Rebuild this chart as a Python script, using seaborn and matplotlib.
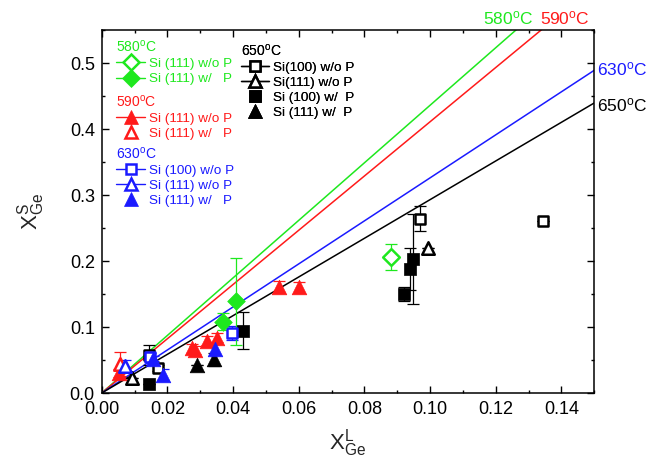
import numpy as np
import pandas as pd
import matplotlib
matplotlib.use("Agg")
import matplotlib.pyplot as plt
from matplotlib.lines import Line2D
from matplotlib.ticker import MultipleLocator, FormatStrFormatter
import seaborn as sns

sns.set_theme(style="ticks")
plt.rcParams['font.family'] = ['Liberation Sans', 'DejaVu Sans']
plt.rcParams['mathtext.fontset'] = 'custom'
plt.rcParams['mathtext.rm'] = 'Liberation Sans'
plt.rcParams['mathtext.it'] = 'Liberation Sans:italic'

GREEN = '#1ee81e'
RED = '#ff1a1a'
BLUE = '#1a1aff'
BLACK = '#000000'

# ---- data ----
temps = ['580', '590', '630', '650']
slopes = [4.36, 4.11, 3.26, 2.93]
line_colors = [GREEN, RED, BLUE, BLACK]
x_line = [0.0, 0.15]

# 580 C
g_wo_x = [0.0880]; g_wo_y = [0.206]; g_wo_e = [0.020]
g_w_x = [0.0368, 0.0408]; g_w_y = [0.108, 0.139]; g_w_e = [0.013, 0.066]
# 590 C
r_wo_x = [0.0053, 0.0274, 0.0284, 0.0320, 0.0352, 0.0540, 0.0600]
r_wo_y = [0.030, 0.068, 0.065, 0.079, 0.084, 0.161, 0.160]
r_wo_e = [0.006, 0.007, 0.006, 0.007, 0.007, 0.008, 0.008]
r_w_x = [0.0055]; r_w_y = [0.044]; r_w_e = [0.018]
# 630 C
b100_wo_x = [0.0148, 0.0398]; b100_wo_y = [0.055, 0.091]; b100_wo_e = [0.005, 0.010]
b111_wo_x = [0.0072]; b111_wo_y = [0.041]; b111_wo_e = [0.009]
b111_w_x = [0.0155, 0.0188, 0.0345]; b111_w_y = [0.052, 0.028, 0.066]; b111_w_e = [0.004, 0.008, 0.008]
# 650 C
k100_wo_x = [0.0144, 0.0172, 0.0968, 0.1344]; k100_wo_y = [0.057, 0.038, 0.264, 0.260]
k100_wo_e = [0.015, 0.005, 0.019, 0.0]
k111_wo_x = [0.0093, 0.0994]; k111_wo_y = [0.022, 0.219]; k111_wo_e = [0.0, 0.0]
k100_w_x = [0.0145, 0.0431, 0.0920, 0.0938, 0.0948]
k100_w_y = [0.014, 0.094, 0.150, 0.188, 0.203]
k100_w_e = [0.0, 0.028, 0.010, 0.032, 0.068]
k111_w_x = [0.0289, 0.0343]; k111_w_y = [0.042, 0.051]; k111_w_e = [0.0, 0.010]

fig = plt.figure(figsize=(6.47, 4.66), dpi=100)
ax = fig.add_axes([101.7/647, 1 - 393/466, (594.3-101.7)/647, (393-30)/466])

# fitted lines through origin
for s, c in zip(slopes, line_colors):
    df = pd.DataFrame({'x': x_line, 'y': [s*v for v in x_line]})
    sns.lineplot(data=df, x='x', y='y', color=c, lw=1.1, ax=ax, legend=False)

def series(x, y, e, color, marker, filled, ms, mew=1.8):
    ax.errorbar(x, y, yerr=e, fmt='none', ecolor=color, elinewidth=0.9,
                capsize=4, capthick=0.9, zorder=3)
    df = pd.DataFrame({'x': x, 'y': y})
    sns.scatterplot(data=df, x='x', y='y', ax=ax, marker=marker, s=ms**2,
                    facecolor=color if filled else 'white',
                    edgecolor=color, linewidth=mew, zorder=4, legend=False)

series(k100_w_x, k100_w_y, k100_w_e, BLACK, 's', True, 8.5, 0.5)
series(k111_w_x, k111_w_y, k111_w_e, BLACK, '^', True, 10.5, 0.5)
series(k100_wo_x, k100_wo_y, k100_wo_e, BLACK, 's', False, 7.5)
series(k111_wo_x, k111_wo_y, k111_wo_e, BLACK, '^', False, 9)
series(r_wo_x, r_wo_y, r_wo_e, RED, '^', True, 10.5, 0.5)
series(r_w_x, r_w_y, r_w_e, RED, '^', False, 9)
series(b100_wo_x, b100_wo_y, b100_wo_e, BLUE, 's', False, 7.5)
series(b111_wo_x, b111_wo_y, b111_wo_e, BLUE, '^', False, 9)
series(b111_w_x, b111_w_y, b111_w_e, BLUE, '^', True, 10.5, 0.5)
series(g_w_x, g_w_y, g_w_e, GREEN, 'D', True, 9, 0.5)
series(g_wo_x, g_wo_y, g_wo_e, GREEN, 'D', False, 8.5)

ax.set_xlim(0, 0.15)
ax.set_ylim(0, 0.55)
ax.xaxis.set_major_locator(MultipleLocator(0.02))
ax.xaxis.set_minor_locator(MultipleLocator(0.01))
ax.yaxis.set_major_locator(MultipleLocator(0.1))
ax.yaxis.set_minor_locator(MultipleLocator(0.05))
ax.xaxis.set_major_formatter(FormatStrFormatter('%.2f'))
ax.yaxis.set_major_formatter(FormatStrFormatter('%.1f'))
ax.tick_params(which='both', direction='in', top=True, right=True, width=1.0, colors='black')
ax.tick_params(which='major', length=5, labelsize=13)
ax.tick_params(axis='x', which='major', pad=6)
ax.tick_params(axis='y', which='major', pad=5)
ax.tick_params(which='minor', length=2.5)
ax.tick_params(axis='y', which='both', labelright=False)
for sp in ax.spines.values():
    sp.set_linewidth(1.1)
    sp.set_color('black')

ax.set_xlabel(r'$\mathrm{X^{L}_{Ge}}$', fontsize=16, labelpad=6)
ax.set_ylabel(r'$\mathrm{X^{S}_{Ge}}$', fontsize=16, labelpad=16)

# temperature labels outside the axes
deg = r'$^{\mathrm{o}}$C'
ax.text(0.774, 1.008, '580' + deg, color=GREEN, fontsize=12.5, transform=ax.transAxes, va='bottom')
ax.text(0.890, 1.008, '590' + deg, color=RED, fontsize=12.5, transform=ax.transAxes, va='bottom')
ax.text(1.005, 0.892, '630' + deg, color=BLUE, fontsize=12.5, transform=ax.transAxes, va='center')
ax.text(1.005, 0.793, '650' + deg, color=BLACK, fontsize=12.5, transform=ax.transAxes, va='center')

def make_legend(title, color, entries, anchor):
    handles, labels = [], []
    for lab, marker, filled, dashed, ms in entries:
        h = Line2D([], [], color=color, marker=marker, markersize=ms,
                   markerfacecolor=color if filled else 'white',
                   markeredgecolor=color, markeredgewidth=1.8 if not filled else 0.5,
                   linestyle='-' if dashed else 'none', lw=1.0)
        handles.append(h); labels.append(lab)
    leg = ax.legend(handles, labels, title=title, loc='upper left', bbox_to_anchor=anchor,
                    frameon=False, fontsize=9.7, title_fontsize=10, handlelength=2.1,
                    handletextpad=0.3, labelspacing=0.2, borderpad=0.0, borderaxespad=0.0,
                    alignment='left')
    leg.get_title().set_color(color)
    for t in leg.get_texts():
        t.set_color(color)
    ax.add_artist(leg)
    return leg

make_legend('580' + deg, GREEN,
            [('Si (111) w/o P', 'D', False, True, 8), ('Si (111) w/   P', 'D', True, True, 9)],
            (0.03, 0.975))
make_legend('590' + deg, RED,
            [('Si (111) w/o P', '^', True, True, 10), ('Si (111) w/   P', '^', False, False, 9)],
            (0.03, 0.825))
make_legend('630' + deg, BLUE,
            [('Si (100) w/o P', 's', False, True, 7.5), ('Si (111) w/o P', '^', False, True, 9),
             ('Si (111) w/   P', '^', True, False, 10)],
            (0.03, 0.682))
make_legend('650' + deg, BLACK,
            [('Si(100) w/o P', 's', False, True, 7.5), ('Si(111) w/o P', '^', False, True, 9),
             ('Si (100) w/  P', 's', True, False, 8.5), ('Si (111) w/  P', '^', True, False, 10)],
            (0.283, 0.965))

fig.savefig('out.png', dpi=100)
